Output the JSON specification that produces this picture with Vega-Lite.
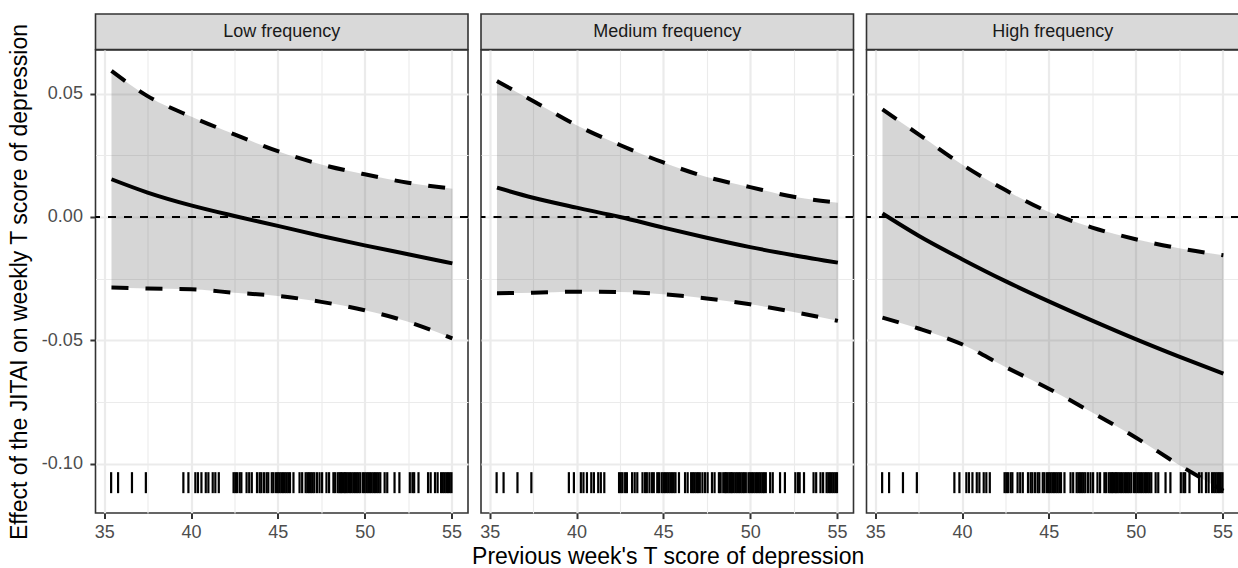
{
  "$schema": "https://vega.github.io/schema/vega-lite/v6.json",
  "padding": {"left": 7.5, "top": 13, "right": 0, "bottom": 0},
  "background": "white",
  "title": {"text": "Previous week's T score of depression", "orient": "bottom", "anchor": "middle", "fontSize": 23, "fontWeight": "normal", "color": "#000000", "font": "Liberation Sans", "offset": 4, "dx": 44},
  "config": {
    "font": "Liberation Sans",
    "view": {"stroke": "#333333", "strokeWidth": 1.6},
    "axis": {
      "domain": false,
      "gridColor": "#EBEBEB",
      "tickColor": "#333333",
      "tickWidth": 2,
      "tickSize": 5.6,
      "labelFontSize": 18,
      "labelColor": "#4D4D4D",
      "labelPadding": 4,
      "labelFlush": false,
      "labelOverlap": false,
      "titleFontSize": 23,
      "titleFontWeight": "normal",
      "titleColor": "#000000"
    }
  },
  "datasets": {
    "curves": [
      {"panel": "Low frequency", "x": 35.42, "est": 0.0153, "lo": -0.0286, "hi": 0.0592},
      {"panel": "Low frequency", "x": 37.5, "est": 0.0099, "lo": -0.0290, "hi": 0.0490},
      {"panel": "Low frequency", "x": 40, "est": 0.0047, "lo": -0.0293, "hi": 0.0407},
      {"panel": "Low frequency", "x": 42.5, "est": 0.0004, "lo": -0.0307, "hi": 0.0335},
      {"panel": "Low frequency", "x": 45, "est": -0.0036, "lo": -0.0320, "hi": 0.0267},
      {"panel": "Low frequency", "x": 47.5, "est": -0.0077, "lo": -0.0344, "hi": 0.0213},
      {"panel": "Low frequency", "x": 50, "est": -0.0115, "lo": -0.0378, "hi": 0.0173},
      {"panel": "Low frequency", "x": 52.5, "est": -0.0151, "lo": -0.0425, "hi": 0.0139},
      {"panel": "Low frequency", "x": 55.05, "est": -0.0188, "lo": -0.0492, "hi": 0.0115},
      {"panel": "Medium frequency", "x": 35.42, "est": 0.0119, "lo": -0.0309, "hi": 0.0551},
      {"panel": "Medium frequency", "x": 37.5, "est": 0.0078, "lo": -0.0307, "hi": 0.0470},
      {"panel": "Medium frequency", "x": 40, "est": 0.0038, "lo": -0.0303, "hi": 0.0372},
      {"panel": "Medium frequency", "x": 42.5, "est": 0.0000, "lo": -0.0304, "hi": 0.0292},
      {"panel": "Medium frequency", "x": 45, "est": -0.0043, "lo": -0.0313, "hi": 0.0221},
      {"panel": "Medium frequency", "x": 47.5, "est": -0.0084, "lo": -0.0330, "hi": 0.0162},
      {"panel": "Medium frequency", "x": 50, "est": -0.0122, "lo": -0.0354, "hi": 0.0121},
      {"panel": "Medium frequency", "x": 52.5, "est": -0.0155, "lo": -0.0385, "hi": 0.0082},
      {"panel": "Medium frequency", "x": 55.05, "est": -0.0185, "lo": -0.0421, "hi": 0.0058},
      {"panel": "High frequency", "x": 35.42, "est": 0.0014, "lo": -0.0408, "hi": 0.0436},
      {"panel": "High frequency", "x": 37.5, "est": -0.0076, "lo": -0.0452, "hi": 0.0335},
      {"panel": "High frequency", "x": 40, "est": -0.0171, "lo": -0.0516, "hi": 0.0213},
      {"panel": "High frequency", "x": 42.5, "est": -0.0260, "lo": -0.0608, "hi": 0.0109},
      {"panel": "High frequency", "x": 45, "est": -0.0342, "lo": -0.0696, "hi": 0.0020},
      {"panel": "High frequency", "x": 47.5, "est": -0.0420, "lo": -0.0793, "hi": -0.0043},
      {"panel": "High frequency", "x": 50, "est": -0.0495, "lo": -0.0894, "hi": -0.0090},
      {"panel": "High frequency", "x": 52.5, "est": -0.0566, "lo": -0.1005, "hi": -0.0127},
      {"panel": "High frequency", "x": 55.05, "est": -0.0635, "lo": -0.1110, "hi": -0.0155}
    ],
    "rug": [
      {"t": 35.4}, {"t": 35.8}, {"t": 36.6}, {"t": 37.4},
      {"t": 39.56}, {"t": 39.85}, {"t": 40.25}, {"t": 40.4}, {"t": 40.6}, {"t": 40.85}, {"t": 41.0}, {"t": 41.25}, {"t": 41.4}, {"t": 41.6},
      {"t": 42.45}, {"t": 42.55}, {"t": 42.65}, {"t": 42.8}, {"t": 42.9},
      {"t": 43.2}, {"t": 43.35}, {"t": 43.5},
      {"t": 43.8}, {"t": 43.95}, {"t": 44.05},
      {"t": 44.2}, {"t": 44.35}, {"t": 44.45},
      {"t": 44.65}, {"t": 44.75}, {"t": 44.9},
      {"t": 45.0}, {"t": 45.1}, {"t": 45.2}, {"t": 45.3}, {"t": 45.4}, {"t": 45.5}, {"t": 45.6}, {"t": 45.7},
      {"t": 45.9},
      {"t": 46.25}, {"t": 46.4},
      {"t": 46.6}, {"t": 46.7}, {"t": 46.8}, {"t": 46.9}, {"t": 47.0}, {"t": 47.1},
      {"t": 47.25}, {"t": 47.4}, {"t": 47.55},
      {"t": 47.8}, {"t": 47.95},
      {"t": 48.2}, {"t": 48.3},
      {"t": 48.45}, {"t": 48.55}, {"t": 48.62}, {"t": 48.7}, {"t": 48.8}, {"t": 48.88}, {"t": 48.95}, {"t": 49.05},
      {"t": 49.15}, {"t": 49.25}, {"t": 49.35}, {"t": 49.45}, {"t": 49.55}, {"t": 49.65}, {"t": 49.75},
      {"t": 49.9}, {"t": 50.0}, {"t": 50.1}, {"t": 50.2}, {"t": 50.3}, {"t": 50.4}, {"t": 50.5}, {"t": 50.6}, {"t": 50.7}, {"t": 50.8}, {"t": 50.9},
      {"t": 51.15}, {"t": 51.3},
      {"t": 51.72}, {"t": 52.0},
      {"t": 52.6}, {"t": 52.75}, {"t": 52.85},
      {"t": 53.1},
      {"t": 53.65}, {"t": 53.8},
      {"t": 54.05}, {"t": 54.2},
      {"t": 54.4}, {"t": 54.5}, {"t": 54.6}, {"t": 54.7}, {"t": 54.8}, {"t": 54.9}, {"t": 55.0}
    ],
    "strips": [
      {"panel": "Low frequency"},
      {"panel": "Medium frequency"},
      {"panel": "High frequency"}
    ],
    "ref": [{"zero": 0}]
  },
  "spacing": 7.5,
  "hconcat": [
    {
      "spacing": 0,
      "bounds": "flush",
      "vconcat": [
        {
          "width": 372.5, "height": 35.5,
          "data": {"name": "strips"},
          "transform": [{"filter": "datum.panel === 'Low frequency'"}],
          "view": {"fill": "#D9D9D9", "stroke": "#333333", "strokeWidth": 1.6},
          "mark": {"type": "text", "fontSize": 18, "color": "#1A1A1A"},
          "encoding": {"text": {"field": "panel"}}
        },
        {
          "width": 372.5, "height": 463,
          "layer": [
            {
              "data": {"name": "curves"},
              "transform": [{"filter": "datum.panel === 'Low frequency'"}],
              "mark": {"type": "area", "color": "#333333", "opacity": 0.2, "interpolate": "monotone"},
              "encoding": {
                "x": {"field": "x", "type": "quantitative", "scale": {"domain": [34.5, 55.95], "nice": false, "zero": false},
                  "axis": {"values": [35, 37.5, 40, 42.5, 45, 47.5, 50, 52.5, 55], "labelExpr": "datum.value % 5 === 0 ? datum.label : ''",
                    "tickOpacity": {"condition": {"test": "datum.value % 5 !== 0", "value": 0}, "value": 1},
                    "gridWidth": {"condition": {"test": "datum.value % 5 !== 0", "value": 1.1}, "value": 2.2},
                    "title": null, "labelPadding": 5}},
                "y": {"field": "lo", "type": "quantitative", "scale": {"domain": [-0.12, 0.0677], "nice": false, "zero": false},
                  "axis": {"values": [-0.1, -0.075, -0.05, -0.025, 0, 0.025, 0.05],
                    "labelExpr": "round(abs(datum.value) * 40) % 2 === 1 ? '' : replace(format(datum.value, '.2f'), '\u2212', '-')",
                    "tickOpacity": {"condition": {"test": "round(abs(datum.value) * 40) % 2 === 1", "value": 0}, "value": 1},
                    "gridWidth": {"condition": {"test": "round(abs(datum.value) * 40) % 2 === 1", "value": 1.1}, "value": 2.2},
                    "labelPadding": 7.5,
                    "title": "Effect of the JITAI on weekly T score of depression", "titlePadding": 10}},
                "y2": {"field": "hi"}
              }
            },
            {
              "data": {"name": "ref"},
              "mark": {"type": "rule", "strokeDash": [8, 8], "strokeWidth": 1.8, "color": "#000000"},
              "encoding": {"y": {"field": "zero", "type": "quantitative"}}
            },
            {
              "data": {"name": "curves"},
              "transform": [{"filter": "datum.panel === 'Low frequency'"}],
              "mark": {"type": "line", "color": "#000000", "strokeWidth": 4, "interpolate": "monotone"},
              "encoding": {"x": {"field": "x", "type": "quantitative"}, "y": {"field": "est", "type": "quantitative"}}
            },
            {
              "data": {"name": "curves"},
              "transform": [{"filter": "datum.panel === 'Low frequency'"}],
              "mark": {"type": "line", "color": "#000000", "strokeWidth": 4, "strokeDash": [17, 17], "strokeCap": "butt", "interpolate": "monotone"},
              "encoding": {"x": {"field": "x", "type": "quantitative"}, "y": {"field": "lo", "type": "quantitative"}}
            },
            {
              "data": {"name": "curves"},
              "transform": [{"filter": "datum.panel === 'Low frequency'"}],
              "mark": {"type": "line", "color": "#000000", "strokeWidth": 4, "strokeDash": [17, 17], "strokeCap": "butt", "interpolate": "monotone"},
              "encoding": {"x": {"field": "x", "type": "quantitative"}, "y": {"field": "hi", "type": "quantitative"}}
            },
            {
              "data": {"name": "rug"},
              "mark": {"type": "tick", "orient": "vertical", "size": 21, "thickness": 2.2, "color": "#000000", "opacity": 1},
              "encoding": {"x": {"field": "t", "type": "quantitative"}, "y": {"datum": -0.1077, "type": "quantitative"}}
            }
          ]
        }
      ]
    },
    {
      "spacing": 0,
      "bounds": "flush",
      "vconcat": [
        {
          "width": 372.5, "height": 35.5,
          "data": {"name": "strips"},
          "transform": [{"filter": "datum.panel === 'Medium frequency'"}],
          "view": {"fill": "#D9D9D9", "stroke": "#333333", "strokeWidth": 1.6},
          "mark": {"type": "text", "fontSize": 18, "color": "#1A1A1A"},
          "encoding": {"text": {"field": "panel"}}
        },
        {
          "width": 372.5, "height": 463,
          "layer": [
            {
              "data": {"name": "curves"},
              "transform": [{"filter": "datum.panel === 'Medium frequency'"}],
              "mark": {"type": "area", "color": "#333333", "opacity": 0.2, "interpolate": "monotone"},
              "encoding": {
                "x": {"field": "x", "type": "quantitative", "scale": {"domain": [34.5, 55.95], "nice": false, "zero": false},
                  "axis": {"values": [35, 37.5, 40, 42.5, 45, 47.5, 50, 52.5, 55], "labelExpr": "datum.value % 5 === 0 ? datum.label : ''",
                    "tickOpacity": {"condition": {"test": "datum.value % 5 !== 0", "value": 0}, "value": 1},
                    "gridWidth": {"condition": {"test": "datum.value % 5 !== 0", "value": 1.1}, "value": 2.2},
                    "title": null, "labelPadding": 5}},
                "y": {"field": "lo", "type": "quantitative", "scale": {"domain": [-0.12, 0.0677], "nice": false, "zero": false},
                  "axis": {"values": [-0.1, -0.075, -0.05, -0.025, 0, 0.025, 0.05], "labels": false, "ticks": false, "title": null,
                    "gridWidth": {"condition": {"test": "round(abs(datum.value) * 40) % 2 === 1", "value": 1.1}, "value": 2.2}}},
                "y2": {"field": "hi"}
              }
            },
            {
              "data": {"name": "ref"},
              "mark": {"type": "rule", "strokeDash": [8, 8], "strokeWidth": 1.8, "color": "#000000"},
              "encoding": {"y": {"field": "zero", "type": "quantitative"}}
            },
            {
              "data": {"name": "curves"},
              "transform": [{"filter": "datum.panel === 'Medium frequency'"}],
              "mark": {"type": "line", "color": "#000000", "strokeWidth": 4, "interpolate": "monotone"},
              "encoding": {"x": {"field": "x", "type": "quantitative"}, "y": {"field": "est", "type": "quantitative"}}
            },
            {
              "data": {"name": "curves"},
              "transform": [{"filter": "datum.panel === 'Medium frequency'"}],
              "mark": {"type": "line", "color": "#000000", "strokeWidth": 4, "strokeDash": [17, 17], "strokeCap": "butt", "interpolate": "monotone"},
              "encoding": {"x": {"field": "x", "type": "quantitative"}, "y": {"field": "lo", "type": "quantitative"}}
            },
            {
              "data": {"name": "curves"},
              "transform": [{"filter": "datum.panel === 'Medium frequency'"}],
              "mark": {"type": "line", "color": "#000000", "strokeWidth": 4, "strokeDash": [17, 17], "strokeCap": "butt", "interpolate": "monotone"},
              "encoding": {"x": {"field": "x", "type": "quantitative"}, "y": {"field": "hi", "type": "quantitative"}}
            },
            {
              "data": {"name": "rug"},
              "mark": {"type": "tick", "orient": "vertical", "size": 21, "thickness": 2.2, "color": "#000000", "opacity": 1},
              "encoding": {"x": {"field": "t", "type": "quantitative"}, "y": {"datum": -0.1077, "type": "quantitative"}}
            }
          ]
        }
      ]
    },
    {
      "spacing": 0,
      "bounds": "flush",
      "vconcat": [
        {
          "width": 372.5, "height": 35.5,
          "data": {"name": "strips"},
          "transform": [{"filter": "datum.panel === 'High frequency'"}],
          "view": {"fill": "#D9D9D9", "stroke": "#333333", "strokeWidth": 1.6},
          "mark": {"type": "text", "fontSize": 18, "color": "#1A1A1A"},
          "encoding": {"text": {"field": "panel"}}
        },
        {
          "width": 372.5, "height": 463,
          "layer": [
            {
              "data": {"name": "curves"},
              "transform": [{"filter": "datum.panel === 'High frequency'"}],
              "mark": {"type": "area", "color": "#333333", "opacity": 0.2, "interpolate": "monotone"},
              "encoding": {
                "x": {"field": "x", "type": "quantitative", "scale": {"domain": [34.5, 55.95], "nice": false, "zero": false},
                  "axis": {"values": [35, 37.5, 40, 42.5, 45, 47.5, 50, 52.5, 55], "labelExpr": "datum.value % 5 === 0 ? datum.label : ''",
                    "tickOpacity": {"condition": {"test": "datum.value % 5 !== 0", "value": 0}, "value": 1},
                    "gridWidth": {"condition": {"test": "datum.value % 5 !== 0", "value": 1.1}, "value": 2.2},
                    "title": null, "labelPadding": 5}},
                "y": {"field": "lo", "type": "quantitative", "scale": {"domain": [-0.12, 0.0677], "nice": false, "zero": false},
                  "axis": {"values": [-0.1, -0.075, -0.05, -0.025, 0, 0.025, 0.05], "labels": false, "ticks": false, "title": null,
                    "gridWidth": {"condition": {"test": "round(abs(datum.value) * 40) % 2 === 1", "value": 1.1}, "value": 2.2}}},
                "y2": {"field": "hi"}
              }
            },
            {
              "data": {"name": "ref"},
              "mark": {"type": "rule", "strokeDash": [8, 8], "strokeWidth": 1.8, "color": "#000000"},
              "encoding": {"y": {"field": "zero", "type": "quantitative"}}
            },
            {
              "data": {"name": "curves"},
              "transform": [{"filter": "datum.panel === 'High frequency'"}],
              "mark": {"type": "line", "color": "#000000", "strokeWidth": 4, "interpolate": "monotone"},
              "encoding": {"x": {"field": "x", "type": "quantitative"}, "y": {"field": "est", "type": "quantitative"}}
            },
            {
              "data": {"name": "curves"},
              "transform": [{"filter": "datum.panel === 'High frequency'"}],
              "mark": {"type": "line", "color": "#000000", "strokeWidth": 4, "strokeDash": [17, 17], "strokeCap": "butt", "interpolate": "monotone"},
              "encoding": {"x": {"field": "x", "type": "quantitative"}, "y": {"field": "lo", "type": "quantitative"}}
            },
            {
              "data": {"name": "curves"},
              "transform": [{"filter": "datum.panel === 'High frequency'"}],
              "mark": {"type": "line", "color": "#000000", "strokeWidth": 4, "strokeDash": [17, 17], "strokeCap": "butt", "interpolate": "monotone"},
              "encoding": {"x": {"field": "x", "type": "quantitative"}, "y": {"field": "hi", "type": "quantitative"}}
            },
            {
              "data": {"name": "rug"},
              "mark": {"type": "tick", "orient": "vertical", "size": 21, "thickness": 2.2, "color": "#000000", "opacity": 1},
              "encoding": {"x": {"field": "t", "type": "quantitative"}, "y": {"datum": -0.1077, "type": "quantitative"}}
            }
          ]
        }
      ]
    }
  ]
}
